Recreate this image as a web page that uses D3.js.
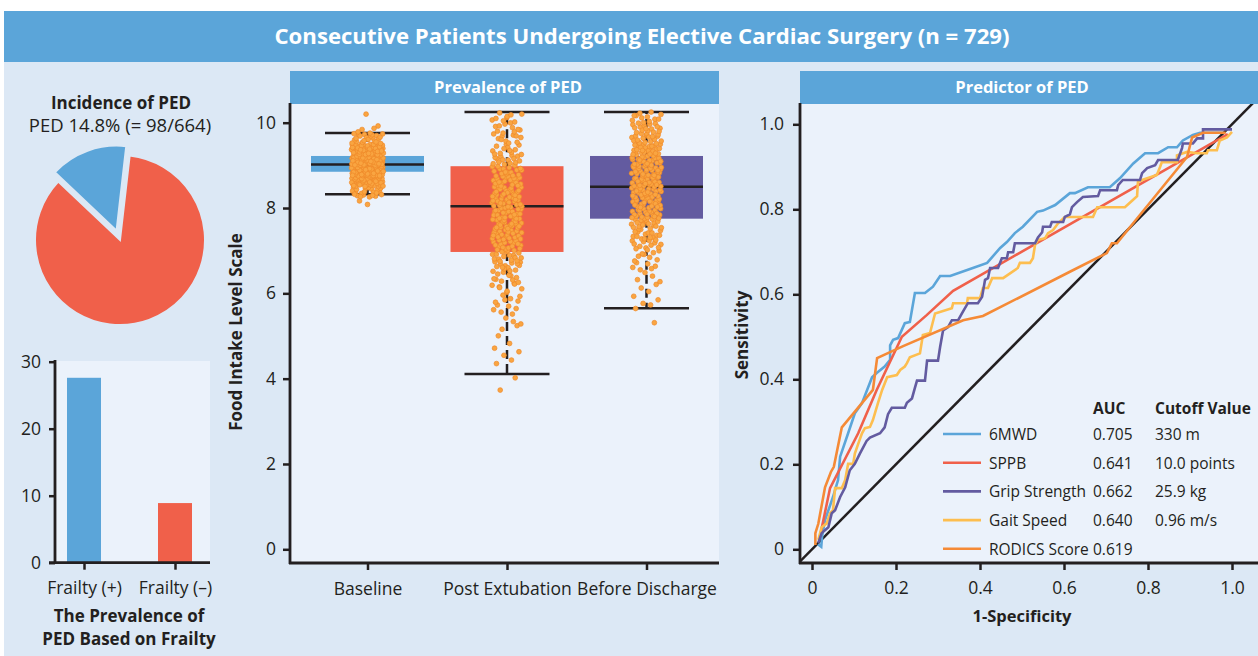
<!DOCTYPE html>
<html>
<head>
    <title>Postoperative Eating Disorder - Cardiac Surgery</title>
    <script src="https://d3js.org/d3.v7.min.js"></script>
    <style>
        body { margin: 0; background: #ffffff; }
        svg { display: block; font-family: "Open Sans", "Noto Sans", sans-serif; }
        .axis text { font-size: 17.5px; fill: #231f20; font-family: "Open Sans", sans-serif; }
        .axis line { stroke: #231f20; stroke-width: 2.5; }
        .axis-line { stroke: #231f20; stroke-width: 2.8; }
    </style>
</head>
<body>
<div id="chart"></div>
<script>
// ---------- data ----------
const pieLabels = ["PED", "No PED"];
const pieValues = [98, 566];

const frailtyCats = ["Frailty (+)", "Frailty (\u2013)"];
const frailtyValues = [27.6, 8.9];

const timepoints = ["Baseline", "Post Extubation", "Before Discharge"];
// [lower whisker, q1, median, q3, upper whisker]
const baselineBox = [8.32, 8.85, 9.02, 9.22, 9.76];
const postExtBox = [4.11, 6.97, 8.04, 8.98, 10.25];
const dischargeBox = [5.65, 7.75, 8.5, 9.22, 10.25];

// number of patient dots per 0.25 step of the scale, starting at 3.5
const binStart = 3.5, binWidth = 0.25;
const baselineCounts = [0,0,0,0,0,0,0,0,0,0, 0,0,0,0,0,0,0,0, 2,22,50,70,75,55,22,5,1,0];
const postExtCounts  = [1,0,1,2,3,1,3,3,6,6, 8,10,14,16,18,20,22,22, 22,22,20,18,14,12,10,10,9,0];
const dischargeCounts= [0,0,0,0,0,0,0,1,2,3, 3,4,6,8,12,16,20,22, 24,25,26,26,26,24,20,16,12,0];

// ROC curves: [1 - specificity, sensitivity]
const roc6mwd = [[0.014,0.012],[0.022,0.006],[0.024,0.03],[0.031,0.069],[0.05,0.123],[0.062,0.163],[0.067,0.218],[0.086,0.273],[0.102,0.32],[0.119,0.344],[0.143,0.405],[0.154,0.415],[0.173,0.43],[0.186,0.446],[0.186,0.48],[0.193,0.493],[0.205,0.497],[0.221,0.532],[0.233,0.535],[0.245,0.603],[0.269,0.603],[0.288,0.618],[0.305,0.643],[0.329,0.643],[0.383,0.662],[0.417,0.674],[0.448,0.709],[0.464,0.723],[0.483,0.744],[0.502,0.759],[0.536,0.794],[0.55,0.797],[0.579,0.81],[0.614,0.838],[0.626,0.838],[0.657,0.852],[0.709,0.852],[0.733,0.873],[0.765,0.908],[0.793,0.932],[0.824,0.932],[0.848,0.946],[0.869,0.946],[0.883,0.962],[0.907,0.975],[0.924,0.98],[0.98,0.98]];
const rocSppb = [[0.019,0.03],[0.043,0.144],[0.11,0.273],[0.154,0.375],[0.214,0.5],[0.273,0.551],[0.336,0.608],[0.99,0.977]];
const rocGrip = [[0.015,0.015],[0.023,0.038],[0.039,0.052],[0.047,0.085],[0.055,0.092],[0.067,0.123],[0.079,0.146],[0.09,0.186],[0.102,0.201],[0.114,0.225],[0.13,0.255],[0.138,0.263],[0.162,0.273],[0.173,0.287],[0.181,0.318],[0.19,0.333],[0.221,0.333],[0.226,0.345],[0.238,0.355],[0.245,0.38],[0.25,0.397],[0.269,0.397],[0.274,0.444],[0.3,0.444],[0.305,0.476],[0.312,0.515],[0.324,0.523],[0.333,0.539],[0.348,0.539],[0.357,0.555],[0.371,0.579],[0.395,0.579],[0.405,0.594],[0.412,0.634],[0.419,0.638],[0.424,0.662],[0.443,0.662],[0.452,0.685],[0.464,0.685],[0.467,0.699],[0.479,0.699],[0.483,0.72],[0.531,0.72],[0.538,0.734],[0.548,0.746],[0.55,0.759],[0.567,0.759],[0.571,0.77],[0.598,0.77],[0.602,0.782],[0.614,0.788],[0.619,0.805],[0.631,0.817],[0.645,0.829],[0.681,0.831],[0.686,0.845],[0.726,0.845],[0.729,0.857],[0.74,0.869],[0.781,0.869],[0.786,0.885],[0.798,0.897],[0.817,0.904],[0.824,0.916],[0.871,0.916],[0.881,0.944],[0.883,0.955],[0.907,0.955],[0.917,0.967],[0.931,0.967],[0.931,0.988],[1.0,0.988]];
const rocGait = [[0.015,0.022],[0.023,0.052],[0.035,0.061],[0.043,0.085],[0.05,0.092],[0.055,0.144],[0.071,0.144],[0.079,0.163],[0.086,0.201],[0.098,0.201],[0.102,0.225],[0.11,0.248],[0.119,0.273],[0.126,0.285],[0.138,0.288],[0.145,0.304],[0.157,0.344],[0.167,0.375],[0.179,0.405],[0.202,0.41],[0.21,0.422],[0.221,0.43],[0.226,0.438],[0.233,0.452],[0.257,0.461],[0.262,0.492],[0.264,0.504],[0.281,0.509],[0.293,0.555],[0.333,0.567],[0.336,0.579],[0.369,0.579],[0.371,0.591],[0.4,0.591],[0.407,0.615],[0.419,0.615],[0.429,0.638],[0.455,0.638],[0.49,0.662],[0.495,0.674],[0.519,0.674],[0.526,0.685],[0.531,0.716],[0.538,0.728],[0.555,0.732],[0.562,0.744],[0.574,0.751],[0.586,0.767],[0.602,0.782],[0.669,0.782],[0.679,0.805],[0.745,0.805],[0.764,0.822],[0.774,0.831],[0.776,0.864],[0.786,0.869],[0.821,0.881],[0.829,0.9],[0.833,0.911],[0.869,0.911],[0.869,0.927],[0.893,0.935],[0.917,0.932],[0.94,0.932],[0.943,0.939],[0.964,0.939],[0.971,0.962],[0.988,0.969],[1.0,0.982]];
const rocRodics = [[0.008,0.01],[0.008,0.038],[0.015,0.06],[0.031,0.146],[0.045,0.182],[0.052,0.194],[0.071,0.287],[0.145,0.375],[0.155,0.45],[0.217,0.478],[0.36,0.539],[0.407,0.549],[0.614,0.653],[0.702,0.697],[0.714,0.72],[0.726,0.72],[0.893,0.923],[0.905,0.969],[0.931,0.98],[0.985,0.98]];

const rocNames = ["6MWD", "SPPB", "Grip Strength", "Gait Speed", "RODICS Score"];
const rocAuc = ["0.705", "0.641", "0.662", "0.640", "0.619"];
const rocCutoff = ["330 m", "10.0 points", "25.9 kg", "0.96 m/s", ""];

// ---------- styles ----------
const ink = "#231f20";
const panelBg = "#dce8f5";
const plotBg = "#ebf2fb";
const blue = "#5ba5d9";
const red = "#f0604a";
const purple = "#635ba0";
const rocColors = [blue, red, purple, "#fdbe4f", "#f58a36"];

const svg = d3.select("#chart").append("svg").attr("width", 1258).attr("height", 656);

svg.append("rect").attr("x", 4).attr("y", 11).attr("width", 1254).attr("height", 645).attr("fill", panelBg);
svg.append("rect").attr("x", 4).attr("y", 11).attr("width", 1254).attr("height", 51).attr("fill", blue);
svg.append("text").attr("x", 642).attr("y", 44).attr("text-anchor", "middle")
    .attr("font-size", 22).attr("font-weight", "bold").attr("fill", "#fff")
    .attr("textLength", 735).attr("lengthAdjust", "spacingAndGlyphs")
    .text("Consecutive Patients Undergoing Elective Cardiac Surgery (n = 729)");

const fixAxis = g => { g.attr("class", "axis"); g.select(".domain").remove(); };
const vline = (x, y1, y2) => svg.append("line").attr("class", "axis-line").attr("x1", x).attr("x2", x).attr("y1", y1).attr("y2", y2);
const hline = (y, x1, x2) => svg.append("line").attr("class", "axis-line").attr("x1", x1).attr("x2", x2).attr("y1", y).attr("y2", y);

// halton sequence, used only to spread the dots sideways within a bin
const halton = (i, b) => {
    let f = 1, r = 0;
    while (i > 0) { f /= b; r += f * (i % b); i = Math.floor(i / b); }
    return r;
};

// ---------- pie ----------
const pieSection = () => {
    svg.append("text").attr("x", 121).attr("y", 109).attr("text-anchor", "middle")
        .attr("font-size", 17).attr("font-weight", "bold").attr("fill", ink).text("Incidence of PED");
    svg.append("text").attr("x", 120).attr("y", 132).attr("text-anchor", "middle")
        .attr("font-size", 18.5).attr("fill", ink).text("PED 14.8% (= 98/664)");

    const start = -46.6 * Math.PI / 180;
    const pie = d3.pie().sort(null).startAngle(start).endAngle(start + 2 * Math.PI);
    const arc = d3.arc().innerRadius(0).outerRadius(85);
    const g = svg.append("g").attr("transform", "translate(120,240)");
    g.selectAll("path").data(pie(pieValues)).enter().append("path")
        .attr("d", arc)
        .attr("transform", (d, i) => {
            if (i !== 0) return null;
            const mid = (d.startAngle + d.endAngle) / 2;
            return `translate(${Math.sin(mid) * 10},${-Math.cos(mid) * 10})`;
        })
        .attr("fill", (d, i) => i === 0 ? blue : red)
        .attr("stroke", panelBg).attr("stroke-width", 2);
};

// ---------- frailty bars ----------
const frailtyBars = () => {
    const x = d3.scalePoint().domain(frailtyCats).range([84, 175]);
    const y = d3.scaleLinear().domain([0, 30]).range([562.7, 361.7]);
    svg.append("rect").attr("x", 55).attr("y", 361).attr("width", 155).attr("height", 202).attr("fill", plotBg);
    svg.selectAll(".fbar").data(frailtyCats).enter().append("rect")
        .attr("class", "fbar")
        .attr("x", d => x(d) - 17).attr("width", 34)
        .attr("y", (d, i) => y(frailtyValues[i]))
        .attr("height", (d, i) => y(0) - y(frailtyValues[i]))
        .attr("fill", (d, i) => i === 0 ? blue : red);
    svg.append("g").attr("transform", "translate(55,0)")
        .call(d3.axisLeft(y).tickValues([0, 10, 20, 30]).tickSize(6).tickPadding(8).tickSizeOuter(0))
        .call(fixAxis)
        .selectAll("text").attr("font-size", "18px");
    svg.append("g").attr("transform", `translate(0,${y(0)})`)
        .call(d3.axisBottom(x).tickSize(7).tickPadding(12).tickSizeOuter(0))
        .call(fixAxis)
        .selectAll("text").attr("font-size", "16.5px");
    vline(55, 360, 564);
    hline(y(0), 49, 210);
    svg.append("text").attr("x", 129).attr("y", 622).attr("text-anchor", "middle")
        .attr("font-size", 17).attr("font-weight", "bold").attr("fill", ink).text("The Prevalence of");
    svg.append("text").attr("x", 129).attr("y", 645).attr("text-anchor", "middle")
        .attr("font-size", 17).attr("font-weight", "bold").attr("fill", ink).text("PED Based on Frailty");
};

// ---------- box plot ----------
const boxPlot = () => {
    svg.append("rect").attr("x", 290).attr("y", 71).attr("width", 429).attr("height", 33).attr("fill", blue);
    svg.append("text").attr("x", 508).attr("y", 93).attr("text-anchor", "middle")
        .attr("font-size", 16.5).attr("font-weight", "bold").attr("fill", "#fff").text("Prevalence of PED");
    svg.append("rect").attr("x", 290).attr("y", 104).attr("width", 429).attr("height", 459).attr("fill", plotBg);

    const x = d3.scalePoint().domain(timepoints).range([367.5, 646.5]);
    const y = d3.scaleLinear().domain([0, 10]).range([549.3, 122.7]);
    const stats = [baselineBox, postExtBox, dischargeBox];
    const counts = [baselineCounts, postExtCounts, dischargeCounts];
    const fills = [blue, red, purple];
    const boxW = 113, capW = 57;

    const g = svg.append("g");
    timepoints.forEach((t, i) => {
        const cx = x(t), s = stats[i];
        g.append("rect").attr("x", cx - boxW / 2).attr("width", boxW)
            .attr("y", y(s[3])).attr("height", y(s[1]) - y(s[3])).attr("fill", fills[i]);
        g.append("line").attr("x1", cx).attr("x2", cx).attr("y1", y(s[3])).attr("y2", y(s[4]))
            .attr("stroke", ink).attr("stroke-width", 2.5).attr("stroke-dasharray", "9,5");
        g.append("line").attr("x1", cx).attr("x2", cx).attr("y1", y(s[1])).attr("y2", y(s[0]))
            .attr("stroke", ink).attr("stroke-width", 2.5).attr("stroke-dasharray", "9,5");
        [s[0], s[4]].forEach(v => g.append("line")
            .attr("x1", cx - capW / 2 - 14).attr("x2", cx + capW / 2 + 14).attr("y1", y(v)).attr("y2", y(v))
            .attr("stroke", ink).attr("stroke-width", 2.5));
        g.append("line").attr("x1", cx - boxW / 2).attr("x2", cx + boxW / 2).attr("y1", y(s[2])).attr("y2", y(s[2]))
            .attr("stroke", ink).attr("stroke-width", 2.5);
    });

    // patient dots, spread inside each bin with a halton jitter
    timepoints.forEach((t, i) => {
        const cx = x(t), spread = i === 0 ? 16 : 15;
        const dots = [];
        let k = 1 + i * 97;
        counts[i].forEach((c, b) => {
            for (let j = 0; j < c; j++, k++) {
                const u = halton(k, 2);
                const v = halton(k, 3);
                dots.push({ val: binStart + (b + v) * binWidth, dx: (u * 2 - 1) * spread });
            }
        });
        g.selectAll(".dot" + i).data(dots).enter().append("circle")
            .attr("class", "dot" + i)
            .attr("cx", d => cx + d.dx).attr("cy", d => y(d.val)).attr("r", 2.4)
            .attr("fill", "#f9a541").attr("stroke", "#ef8a2a").attr("stroke-width", 0.7);
    });

    svg.append("g").attr("transform", "translate(290,0)")
        .call(d3.axisLeft(y).tickValues([0, 2, 4, 6, 8, 10]).tickSize(7).tickPadding(7).tickSizeOuter(0))
        .call(fixAxis);
    svg.append("g").attr("transform", "translate(0,563)")
        .call(d3.axisBottom(x).tickSize(7).tickPadding(13).tickSizeOuter(0))
        .call(fixAxis)
        .selectAll("text").attr("font-size", "16.5px");
    vline(290, 103, 564);
    hline(563, 289, 719);
    svg.append("text").attr("transform", "translate(242,332) rotate(-90)").attr("text-anchor", "middle")
        .attr("font-size", 17).attr("font-weight", "bold").attr("fill", ink).text("Food Intake Level Scale");
};

// ---------- ROC ----------
const rocPlot = () => {
    svg.append("rect").attr("x", 800).attr("y", 71).attr("width", 458).attr("height", 33).attr("fill", blue);
    svg.append("text").attr("x", 1022).attr("y", 93).attr("text-anchor", "middle")
        .attr("font-size", 16.5).attr("font-weight", "bold").attr("fill", "#fff").text("Predictor of PED");
    svg.append("rect").attr("x", 800).attr("y", 104).attr("width", 458).attr("height", 459).attr("fill", plotBg);
    svg.append("clipPath").attr("id", "rocClip").append("rect")
        .attr("x", 800).attr("y", 104).attr("width", 458).attr("height", 459);

    const x = d3.scaleLinear().domain([0, 1]).range([812, 1232]);
    const y = d3.scaleLinear().domain([0, 1]).range([549.3, 124.3]);
    const g = svg.append("g").attr("clip-path", "url(#rocClip)");

    g.append("line").attr("x1", x(-0.05)).attr("y1", y(-0.05)).attr("x2", x(1.1)).attr("y2", y(1.1))
        .attr("stroke", ink).attr("stroke-width", 2.5);

    const line = d3.line().x(d => x(d[0])).y(d => y(d[1]));
    const series = [roc6mwd, rocSppb, rocGait, rocGrip, rocRodics];
    const colorIdx = [0, 1, 3, 2, 4];
    series.forEach((s, i) => {
        g.append("path").attr("d", line(s)).attr("fill", "none")
            .attr("stroke", rocColors[colorIdx[i]]).attr("stroke-width", 2.6).attr("stroke-linejoin", "miter");
    });

    const fmt = d => d === 0 ? "0" : d3.format(".1f")(d);
    svg.append("g").attr("transform", "translate(800,0)")
        .call(d3.axisLeft(y).tickValues([0, 0.2, 0.4, 0.6, 0.8, 1]).tickFormat(fmt).tickSize(7).tickPadding(9).tickSizeOuter(0))
        .call(fixAxis);
    svg.append("g").attr("transform", "translate(0,563)")
        .call(d3.axisBottom(x).tickValues([0, 0.2, 0.4, 0.6, 0.8, 1]).tickFormat(fmt).tickSize(7).tickPadding(12).tickSizeOuter(0))
        .call(fixAxis);
    vline(800, 103, 564);
    hline(563, 799, 1258);
    svg.append("text").attr("transform", "translate(748,335) rotate(-90)").attr("text-anchor", "middle")
        .attr("font-size", 17).attr("font-weight", "bold").attr("fill", ink).text("Sensitivity");
    svg.append("text").attr("x", 1022).attr("y", 622).attr("text-anchor", "middle")
        .attr("font-size", 16.5).attr("font-weight", "bold").attr("fill", ink).text("1-Specificity");

    // legend table
    const lg = svg.append("g");
    lg.append("text").attr("x", 1093).attr("y", 414).attr("font-size", 15.5).attr("font-weight", "bold").attr("fill", ink).text("AUC");
    lg.append("text").attr("x", 1155).attr("y", 414).attr("font-size", 15.5).attr("font-weight", "bold").attr("fill", ink).text("Cutoff Value");
    const rows = lg.selectAll(".lrow").data(rocNames).enter().append("g")
        .attr("class", "lrow").attr("transform", (d, i) => `translate(0,${434 + i * 28.7})`);
    rows.append("line").attr("x1", 943).attr("x2", 981).attr("stroke", (d, i) => rocColors[i]).attr("stroke-width", 2.6);
    rows.append("text").attr("x", 989).attr("y", 6).attr("font-size", 15.5).attr("fill", ink).text(d => d);
    rows.append("text").attr("x", 1093).attr("y", 6).attr("font-size", 15.5).attr("fill", ink).text((d, i) => rocAuc[i]);
    rows.append("text").attr("x", 1155).attr("y", 6).attr("font-size", 15.5).attr("fill", ink).text((d, i) => rocCutoff[i]);
};

pieSection();
frailtyBars();
boxPlot();
rocPlot();
</script>
</body>
</html>
